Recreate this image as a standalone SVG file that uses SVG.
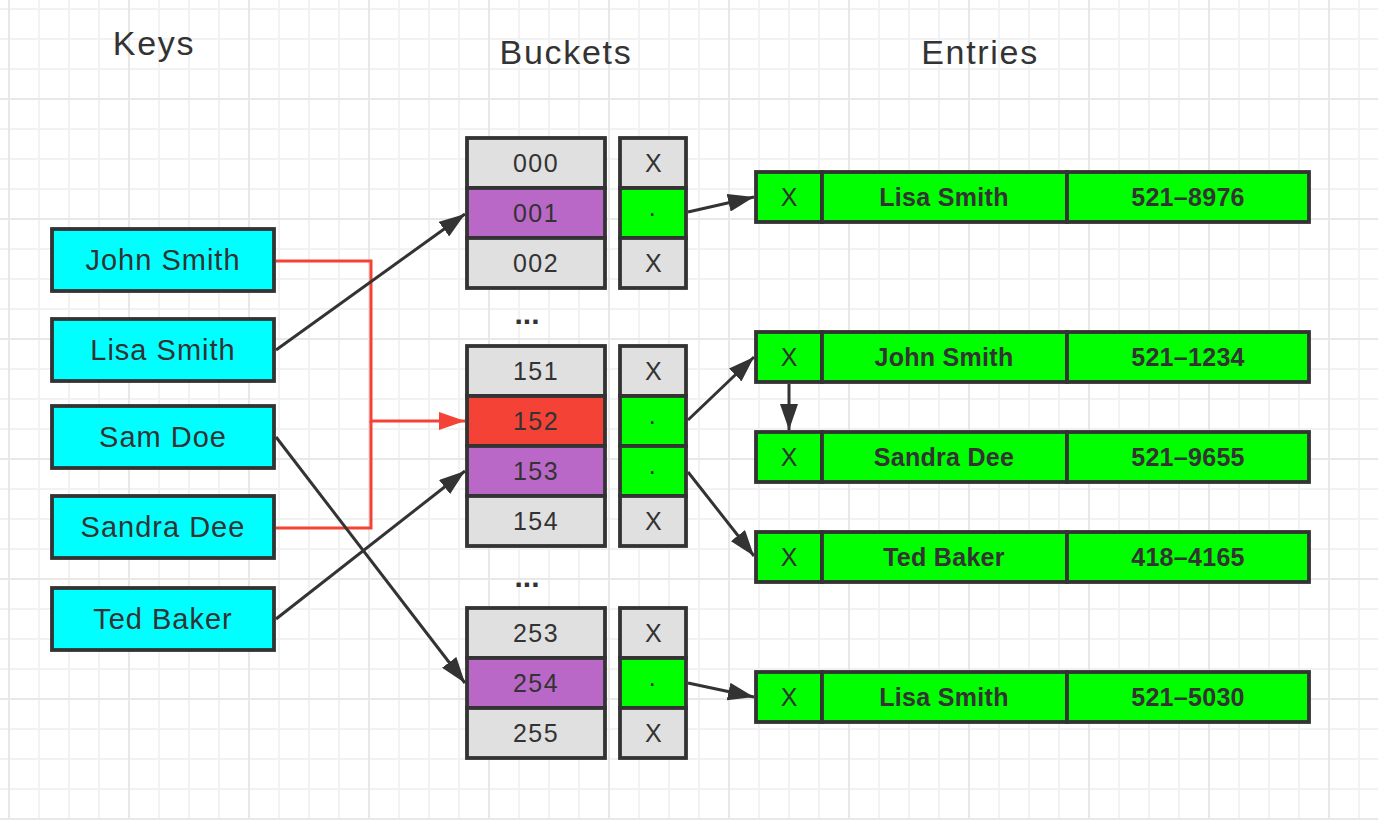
<svg xmlns="http://www.w3.org/2000/svg" width="1378" height="820" viewBox="0 0 1378 820">
<style>
.bx{stroke:#333;stroke-width:3.8}
.key{fill:#00ffff}
.gr{fill:#e0e0e0}
.pu{fill:#ba68c8}
.rd{fill:#f44336}
.gn{fill:#00ff00}
text{font-family:"Liberation Sans",Arial,sans-serif;fill:#333;text-anchor:middle}
.h{font-size:34px;letter-spacing:1.7px}
.k{font-size:29px;letter-spacing:1px}
.n{font-size:25px;letter-spacing:1.5px}
.e{font-size:25px;font-weight:bold;letter-spacing:0.3px}
.d{font-size:30px;font-weight:bold}
.c{fill:none;stroke:#333;stroke-width:3}
.cr{fill:none;stroke:#f44336;stroke-width:3}
</style>
<defs>
<pattern id="minor" width="30" height="30" patternUnits="userSpaceOnUse" x="-6" y="-6"><path d="M15,0V30M0,15H30" stroke="#f2f2f2" stroke-width="2" fill="none"/></pattern>
<pattern id="major" width="120" height="120" patternUnits="userSpaceOnUse" x="-51" y="39"><path d="M60,0V120M0,60H120" stroke="#e8e8e8" stroke-width="2" fill="none"/></pattern>
<marker id="ah" markerUnits="userSpaceOnUse" markerWidth="26" markerHeight="18" refX="26" refY="9" orient="auto"><path d="M0,0L26,9L0,18z" fill="#333"/></marker>
<marker id="ahr" markerUnits="userSpaceOnUse" markerWidth="26" markerHeight="18" refX="26" refY="9" orient="auto"><path d="M0,0L26,9L0,18z" fill="#f44336"/></marker>
</defs>
<rect width="1378" height="820" fill="#fff"/>
<rect width="1378" height="820" fill="url(#minor)"/>
<rect width="1378" height="820" fill="url(#major)"/>

<g id="headings">
<text class="h" x="154" y="55">Keys</text>
<text class="h" x="566" y="64">Buckets</text>
<text class="h" x="980" y="64">Entries</text>
</g>

<g id="key-john"><rect class="bx key" x="52" y="229" width="222" height="62"/><text class="k" x="163" y="270">John Smith</text></g>
<g id="key-lisa"><rect class="bx key" x="52" y="319" width="222" height="62"/><text class="k" x="163" y="360">Lisa Smith</text></g>
<g id="key-sam"><rect class="bx key" x="52" y="406" width="222" height="62"/><text class="k" x="163" y="447">Sam Doe</text></g>
<g id="key-sandra"><rect class="bx key" x="52" y="496" width="222" height="62"/><text class="k" x="163" y="537">Sandra Dee</text></g>
<g id="key-ted"><rect class="bx key" x="52" y="588" width="222" height="62"/><text class="k" x="163" y="629">Ted Baker</text></g>

<g id="bucket-000"><rect class="bx gr" x="467" y="138" width="138" height="50"/><text class="n" x="536" y="172">000</text><rect class="bx gr" x="620" y="138" width="66" height="50"/><text class="n" x="654" y="172">X</text></g>
<g id="bucket-001"><rect class="bx pu" x="467" y="188" width="138" height="50"/><text class="n" x="536" y="222">001</text><rect class="bx gn" x="620" y="188" width="66" height="50"/><text class="n" x="653" y="216">.</text></g>
<g id="bucket-002"><rect class="bx gr" x="467" y="238" width="138" height="50"/><text class="n" x="536" y="272">002</text><rect class="bx gr" x="620" y="238" width="66" height="50"/><text class="n" x="654" y="272">X</text></g>
<g id="dots-1"><text class="d" x="527" y="324">...</text></g>
<g id="bucket-151"><rect class="bx gr" x="467" y="346" width="138" height="50"/><text class="n" x="536" y="380">151</text><rect class="bx gr" x="620" y="346" width="66" height="50"/><text class="n" x="654" y="380">X</text></g>
<g id="bucket-152"><rect class="bx rd" x="467" y="396" width="138" height="50"/><text class="n" x="536" y="430">152</text><rect class="bx gn" x="620" y="396" width="66" height="50"/><text class="n" x="653" y="424">.</text></g>
<g id="bucket-153"><rect class="bx pu" x="467" y="446" width="138" height="50"/><text class="n" x="536" y="480">153</text><rect class="bx gn" x="620" y="446" width="66" height="50"/><text class="n" x="653" y="474">.</text></g>
<g id="bucket-154"><rect class="bx gr" x="467" y="496" width="138" height="50"/><text class="n" x="536" y="530">154</text><rect class="bx gr" x="620" y="496" width="66" height="50"/><text class="n" x="654" y="530">X</text></g>
<g id="dots-2"><text class="d" x="527" y="587">...</text></g>
<g id="bucket-253"><rect class="bx gr" x="467" y="608" width="138" height="50"/><text class="n" x="536" y="642">253</text><rect class="bx gr" x="620" y="608" width="66" height="50"/><text class="n" x="654" y="642">X</text></g>
<g id="bucket-254"><rect class="bx pu" x="467" y="658" width="138" height="50"/><text class="n" x="536" y="692">254</text><rect class="bx gn" x="620" y="658" width="66" height="50"/><text class="n" x="653" y="686">.</text></g>
<g id="bucket-255"><rect class="bx gr" x="467" y="708" width="138" height="50"/><text class="n" x="536" y="742">255</text><rect class="bx gr" x="620" y="708" width="66" height="50"/><text class="n" x="654" y="742">X</text></g>

<g id="entry-lisa-1"><rect class="bx gn" x="756" y="172" width="66" height="50"/><rect class="bx gn" x="822" y="172" width="245" height="50"/><rect class="bx gn" x="1067" y="172" width="242" height="50"/><text class="n" x="789" y="206" style="letter-spacing:0">X</text><text class="e" x="944" y="206">Lisa Smith</text><text class="e" x="1188" y="206">521–8976</text></g>
<g id="entry-john"><rect class="bx gn" x="756" y="332" width="66" height="50"/><rect class="bx gn" x="822" y="332" width="245" height="50"/><rect class="bx gn" x="1067" y="332" width="242" height="50"/><text class="n" x="789" y="366" style="letter-spacing:0">X</text><text class="e" x="944" y="366">John Smith</text><text class="e" x="1188" y="366">521–1234</text></g>
<g id="entry-sandra"><rect class="bx gn" x="756" y="432" width="66" height="50"/><rect class="bx gn" x="822" y="432" width="245" height="50"/><rect class="bx gn" x="1067" y="432" width="242" height="50"/><text class="n" x="789" y="466" style="letter-spacing:0">X</text><text class="e" x="944" y="466">Sandra Dee</text><text class="e" x="1188" y="466">521–9655</text></g>
<g id="entry-ted"><rect class="bx gn" x="756" y="532" width="66" height="50"/><rect class="bx gn" x="822" y="532" width="245" height="50"/><rect class="bx gn" x="1067" y="532" width="242" height="50"/><text class="n" x="789" y="566" style="letter-spacing:0">X</text><text class="e" x="944" y="566">Ted Baker</text><text class="e" x="1188" y="566">418–4165</text></g>
<g id="entry-lisa-2"><rect class="bx gn" x="756" y="672" width="66" height="50"/><rect class="bx gn" x="822" y="672" width="245" height="50"/><rect class="bx gn" x="1067" y="672" width="242" height="50"/><text class="n" x="789" y="706" style="letter-spacing:0">X</text><text class="e" x="944" y="706">Lisa Smith</text><text class="e" x="1188" y="706">521–5030</text></g>

<g id="connectors">
<path class="cr" d="M276,261H371V421H465" marker-end="url(#ahr)"/>
<path class="cr" d="M276,528H371V421"/>
<path class="c" d="M276,350L465,214" marker-end="url(#ah)"/>
<path class="c" d="M276,437L465,683" marker-end="url(#ah)"/>
<path class="c" d="M276,619L465,471" marker-end="url(#ah)"/>
<path class="c" d="M688,212L754,197" marker-end="url(#ah)"/>
<path class="c" d="M688,420L754,357" marker-end="url(#ah)"/>
<path class="c" d="M688,472L754,556" marker-end="url(#ah)"/>
<path class="c" d="M688,683L754,697" marker-end="url(#ah)"/>
<path class="c" d="M789,384V430" marker-end="url(#ah)"/>
</g>
</svg>
